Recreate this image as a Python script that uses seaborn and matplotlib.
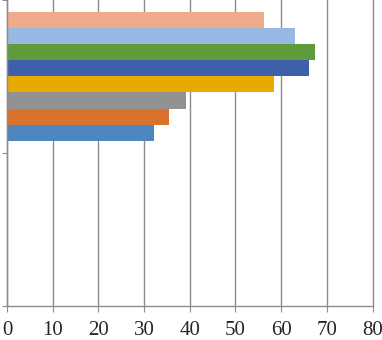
import pandas as pd
import matplotlib.pyplot as plt
import seaborn as sns

# categories top to bottom as drawn; the lower one carries no bars
categories = ["Category 2", "Category 1"]
series = ["Series 8", "Series 7", "Series 6", "Series 5",
          "Series 4", "Series 3", "Series 2", "Series 1"]
values_cat2 = [56.3, 63.1, 67.5, 66.2, 58.4, 39.2, 35.5, 32.2]
colors = ["#F0AA8C", "#98B9E3", "#5F9B3C", "#3C60AA",
          "#E8AA00", "#929292", "#D8722C", "#4E86C1"]
x_ticks = [0, 10, 20, 30, 40, 50, 60, 70, 80]

df = pd.DataFrame({
    "category": [categories[0]] * len(series),
    "series": series,
    "value": values_cat2,
})

sns.set_style("white")
plt.rcParams["font.family"] = ["Liberation Serif", "DejaVu Serif"]

fig = plt.figure(figsize=(3.82, 3.40), dpi=100)
ax = fig.add_axes([7 / 382, 34.3 / 340, 365.5 / 382, 305.7 / 340])

sns.barplot(data=df, y="category", x="value", hue="series", order=categories,
            hue_order=series, palette=colors, orient="h", width=0.84,
            linewidth=0, saturation=1, legend=False, ax=ax)

grid_color = "#8C8C8C"
ax.set_xlim(0, 80)
ax.set_ylim(1.5, -0.5)
ax.set_xticks(x_ticks)
ax.set_xticklabels([str(t) for t in x_ticks], fontsize=15)
ax.set_yticks([-0.5, 0.5, 1.5])
ax.set_yticklabels([])
ax.xaxis.grid(True, color=grid_color, linewidth=1.0)
ax.set_axisbelow(True)
for line in ax.get_xgridlines():
    line.set_clip_on(False)
ax.tick_params(axis="x", direction="out", length=4.5, width=0.8, color=grid_color,
               pad=6.5, bottom=True)
ax.tick_params(axis="y", direction="out", length=3.5, width=0.8, color=grid_color,
               left=True)
for side in ["top", "right"]:
    ax.spines[side].set_visible(False)
for side in ["left", "bottom"]:
    ax.spines[side].set_color(grid_color)
    ax.spines[side].set_linewidth(1.0)
ax.set_xlabel("")
ax.set_ylabel("")

fig.savefig("out.png", dpi=100)
